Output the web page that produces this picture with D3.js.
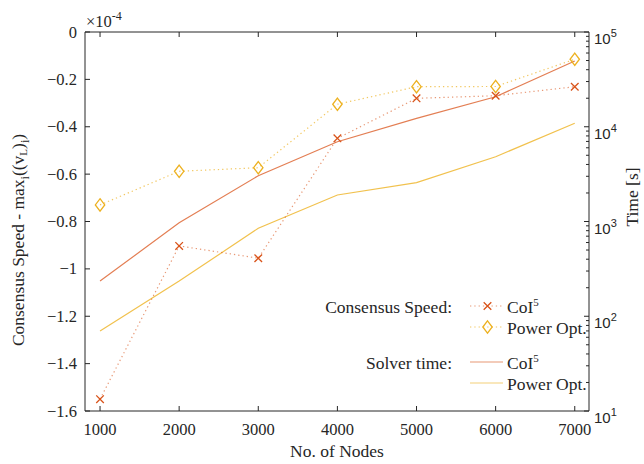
<!DOCTYPE html>
<html>
<head>
<meta charset="utf-8">
<script src="https://cdn.jsdelivr.net/npm/d3@7"></script>
<style>
  body { margin: 0; background: #fff; }
  text { fill: #262626; }
</style>
</head>
<body>
<div id="chart"></div>
<script>
// values
const nodes = [1000, 2000, 3000, 4000, 5000, 6000, 7000];
const speedCoI = [-1.55, -0.903, -0.955, -0.449, -0.28, -0.269, -0.231]; // x1e-4
const speedPower = [-0.73, -0.588, -0.573, -0.305, -0.231, -0.23, -0.115];
const timeCoI = [235, 970, 3040, 6950, 12270, 20750, 49400];
const timePower = [70, 235, 848, 1905, 2570, 4830, 10870];
const leftTicks = [0, -0.2, -0.4, -0.6, -0.8, -1, -1.2, -1.4, -1.6];
const rightTicks = [10, 100, 1000, 10000, 100000];

const W = 644, H = 464;
const margin = { left: 85, right: 55, top: 32, bottom: 53 };
const red = "#D95319", yellow = "#EDB120";
const serif = "Liberation Serif", sans = "Liberation Sans";

const svg = d3.select("#chart").append("svg").attr("width", W).attr("height", H);

const x = d3.scaleLinear().domain([810, 7180]).range([margin.left, W - margin.right]);
const yL = d3.scaleLinear().domain([-1.6, 0]).range([H - margin.bottom, margin.top]);
const yR = d3.scaleLog().domain([10, 1e5]).range([H - margin.bottom, margin.top]);

const x0 = margin.left, x1 = W - margin.right, y0 = H - margin.bottom, y1 = margin.top;

// lines
const lineL = d3.line().x((d, i) => x(nodes[i])).y((d) => yL(d));
const lineR = d3.line().x((d, i) => x(nodes[i])).y((d) => yR(d));

const plot = svg.append("g");
plot.append("path").attr("d", lineR(timePower)).attr("fill", "none")
  .attr("stroke", yellow).attr("stroke-width", 1.2).attr("stroke-opacity", 0.8);
plot.append("path").attr("d", lineR(timeCoI)).attr("fill", "none")
  .attr("stroke", red).attr("stroke-width", 1.2).attr("stroke-opacity", 0.75);
plot.append("path").attr("d", lineL(speedPower)).attr("fill", "none")
  .attr("stroke", yellow).attr("stroke-width", 1.2).attr("stroke-opacity", 0.7)
  .attr("stroke-dasharray", "1.3,3");
plot.append("path").attr("d", lineL(speedCoI)).attr("fill", "none")
  .attr("stroke", red).attr("stroke-width", 1.2).attr("stroke-opacity", 0.6)
  .attr("stroke-dasharray", "1.3,3");

function crossPath(cx, cy, r) {
  return `M${cx - r},${cy - r}L${cx + r},${cy + r}M${cx - r},${cy + r}L${cx + r},${cy - r}`;
}
function diamondPath(cx, cy, w, h) {
  return `M${cx},${cy - h}L${cx + w},${cy}L${cx},${cy + h}L${cx - w},${cy}Z`;
}

plot.selectAll(".mk-power").data(speedPower).join("path")
  .attr("class", "mk-power")
  .attr("d", (d, i) => diamondPath(x(nodes[i]), yL(d), 4.7, 6.2))
  .attr("fill", "none").attr("stroke", yellow).attr("stroke-width", 1.3);
plot.selectAll(".mk-coi").data(speedCoI).join("path")
  .attr("class", "mk-coi")
  .attr("d", (d, i) => crossPath(x(nodes[i]), yL(d), 3.8))
  .attr("fill", "none").attr("stroke", red).attr("stroke-width", 1.3);

// axes frame
const axisColor = "#262626";
const frame = svg.append("g").attr("stroke", axisColor).attr("stroke-width", 1).attr("fill", "none");
frame.append("path").attr("d", `M${x0},${y1}L${x1},${y1}L${x1},${y0}L${x0},${y0}Z`);

// x ticks bottom and top
const tk = svg.append("g").attr("stroke", axisColor).attr("stroke-width", 1);
nodes.forEach((n) => {
  tk.append("line").attr("x1", x(n)).attr("x2", x(n)).attr("y1", y0).attr("y2", y0 - 5);
  tk.append("line").attr("x1", x(n)).attr("x2", x(n)).attr("y1", y1).attr("y2", y1 + 5);
});
svg.append("g").selectAll("text").data(nodes).join("text")
  .attr("x", (d) => x(d)).attr("y", 435)
  .attr("text-anchor", "middle")
  .attr("font-family", serif).attr("font-size", 16.5)
  .text((d) => d);

// left ticks
leftTicks.forEach((v) => {
  tk.append("line").attr("x1", x0).attr("x2", x0 + 5).attr("y1", yL(v)).attr("y2", yL(v));
});
svg.append("g").selectAll("text").data(leftTicks).join("text")
  .attr("x", 77).attr("y", (d) => yL(d) + 5.5)
  .attr("text-anchor", "end")
  .attr("font-family", serif).attr("font-size", 16.5)
  .text((d) => (d === 0 ? "0" : d3.format("")(d)));

// right log ticks
const minor = [];
for (let e = 1; e < 5; e++) for (let m = 2; m <= 9; m++) minor.push(m * Math.pow(10, e));
minor.forEach((v) => {
  tk.append("line").attr("x1", x1).attr("x2", x1 - 3).attr("y1", yR(v)).attr("y2", yR(v));
});
rightTicks.forEach((v) => {
  tk.append("line").attr("x1", x1).attr("x2", x1 - 5).attr("y1", yR(v)).attr("y2", yR(v));
});
const rl = svg.append("g").selectAll("text").data(rightTicks).join("text")
  .attr("x", 594).attr("y", (d) => yR(d) + 12)
  .attr("font-family", sans).attr("font-size", 15);
rl.append("tspan").text("10");
rl.append("tspan").attr("dy", -7).attr("font-size", 11).text((d) => Math.round(Math.log10(d)));

// exponent note
const ex = svg.append("text").attr("x", 86).attr("y", 27)
  .attr("font-family", serif).attr("font-size", 16.5);
ex.append("tspan").text("×10");
ex.append("tspan").attr("dy", -7).attr("font-size", 12).text("-4");

// axis labels
svg.append("text").attr("x", (x0 + x1) / 2).attr("y", 457)
  .attr("text-anchor", "middle").attr("font-family", serif).attr("font-size", 17.5)
  .text("No. of Nodes");

const yl = svg.append("text")
  .attr("transform", `translate(24,240) rotate(-90)`)
  .attr("text-anchor", "middle").attr("font-family", serif).attr("font-size", 17.5);
yl.append("tspan").text("Consensus Speed - max");
yl.append("tspan").attr("dy", 5).attr("font-size", 12).text("i");
yl.append("tspan").attr("dy", -5).text("((v");
yl.append("tspan").attr("dy", 3).attr("font-size", 11).text("L");
yl.append("tspan").attr("dy", -3).text(")");
yl.append("tspan").attr("dy", 5).attr("font-size", 12).text("i");
yl.append("tspan").attr("dy", -5).text(")");

svg.append("text")
  .attr("transform", `translate(638,197) rotate(-90)`)
  .attr("text-anchor", "middle").attr("font-family", serif).attr("font-size", 17.5)
  .text("Time [s]");

// legend
const lg = svg.append("g").attr("font-family", serif).attr("font-size", 17.5);
lg.append("text").attr("x", 452).attr("y", 313).attr("text-anchor", "end").text("Consensus Speed:");
lg.append("text").attr("x", 452).attr("y", 369).attr("text-anchor", "end").text("Solver time:");

const legendRows = [
  { y: 306, color: red, dash: "1.3,3", marker: "x", op: 0.6 },
  { y: 327, color: yellow, dash: "1.3,3", marker: "d", op: 0.7 },
  { y: 362, color: red, dash: null, marker: null, op: 0.6 },
  { y: 383, color: yellow, dash: null, marker: null, op: 0.6 },
];
const names = ["CoI", "Power Opt.", "CoI", "Power Opt."];
legendRows.forEach((r, i) => {
  lg.append("line").attr("x1", 470).attr("x2", 503).attr("y1", r.y).attr("y2", r.y)
    .attr("stroke", r.color).attr("stroke-width", 1.2).attr("stroke-opacity", r.op)
    .attr("stroke-dasharray", r.dash);
  if (r.marker === "x")
    lg.append("path").attr("d", crossPath(487.5, r.y, 3.8)).attr("fill", "none")
      .attr("stroke", r.color).attr("stroke-width", 1.3);
  if (r.marker === "d")
    lg.append("path").attr("d", diamondPath(487.5, r.y, 4.7, 6.2)).attr("fill", "none")
      .attr("stroke", r.color).attr("stroke-width", 1.3);
  const t = lg.append("text").attr("x", 507).attr("y", r.y + 7);
  t.append("tspan").text(names[i]);
  if (names[i] === "CoI") t.append("tspan").attr("dy", -7).attr("font-size", 11).text("5");
});
</script>
</body>
</html>
